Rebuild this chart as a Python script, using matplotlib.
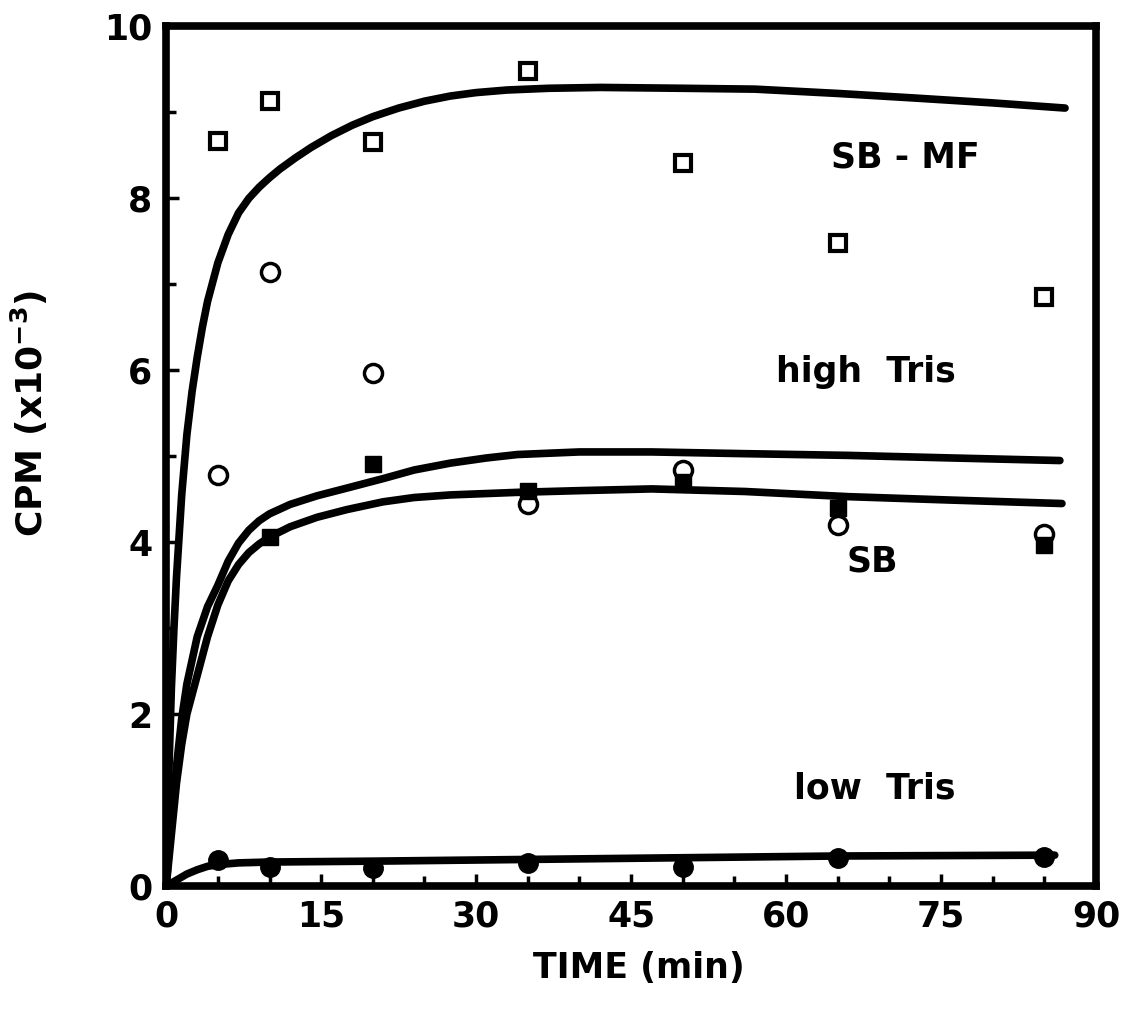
import matplotlib
matplotlib.use("Agg")
import matplotlib.pyplot as plt
from matplotlib.ticker import MultipleLocator

plt.rcParams['font.family'] = ['DejaVu Sans']
plt.rcParams['font.weight'] = 'bold'
plt.rcParams['mathtext.default'] = 'bf'

# sampling times (min)
times = [5, 10, 20, 35, 50, 65, 85]
sb_times = [10, 20, 35, 50, 65, 85]

# measured counts, CPM x 10^-3
sb_mf = [8.67, 9.13, 8.65, 9.48, 8.41, 7.48, 6.85]
high_tris = [4.78, 7.14, 5.97, 4.45, 4.84, 4.20, 4.10]
sb = [4.06, 4.91, 4.60, 4.70, 4.40, 3.97]
low_tris = [0.30, 0.22, 0.21, 0.27, 0.22, 0.33, 0.34]

# hand-drawn fitted curves
sb_mf_fit_t = [0, 0.25, 0.5, 0.75, 1, 1.5, 2, 2.5, 3, 3.5, 4, 5, 6, 7, 8, 9, 10,
               11, 12.5, 14, 16, 18, 20, 22.5, 25, 27.5, 30, 33, 37, 42, 50, 57,
               65, 72, 80, 87]
sb_mf_fit_y = [0, 1.3, 2.3, 3.0, 3.6, 4.55, 5.25, 5.75, 6.15, 6.5, 6.8, 7.25,
               7.58, 7.83, 8.0, 8.13, 8.24, 8.34, 8.47, 8.59, 8.73, 8.85, 8.95,
               9.05, 9.13, 9.19, 9.23, 9.26, 9.28, 9.29, 9.28, 9.27, 9.22, 9.17,
               9.11, 9.05]

high_fit_t = [0, 0.5, 1, 1.5, 2, 3, 4, 5, 6, 7, 8, 9, 10, 12, 14.6, 17.5, 21, 24,
              27.5, 31, 34, 40, 47, 56, 66, 76, 86.5]
high_fit_y = [0, 0.75, 1.4, 1.95, 2.35, 2.9, 3.25, 3.5, 3.78, 3.99, 4.14, 4.25,
              4.33, 4.44, 4.54, 4.63, 4.74, 4.84, 4.92, 4.98, 5.02, 5.05, 5.05,
              5.03, 5.01, 4.98, 4.95]

sb_fit_t = [0, 0.5, 1, 1.5, 2, 3, 4, 5, 6, 7, 8, 9, 10, 12, 14.6, 17.5, 21, 24,
            27.5, 34, 40, 47, 56, 66, 76, 86.7]
sb_fit_y = [0, 0.6, 1.2, 1.65, 2.0, 2.45, 2.9, 3.27, 3.55, 3.74, 3.88, 3.98, 4.06,
            4.18, 4.29, 4.38, 4.47, 4.52, 4.55, 4.58, 4.60, 4.62, 4.59, 4.53,
            4.49, 4.45]

low_fit_t = [0, 1, 2, 3, 4, 5, 7, 10, 20, 35, 50, 65, 86]
low_fit_y = [0, 0.07, 0.14, 0.19, 0.23, 0.25, 0.27, 0.28, 0.29, 0.31, 0.33, 0.35,
             0.36]

fig = plt.figure(figsize=(11.23, 10.15), dpi=100)
ax = fig.add_axes([0.148, 0.127, 0.828, 0.847])

lw = 5.5
for t, y in [(sb_mf_fit_t, sb_mf_fit_y), (high_fit_t, high_fit_y),
             (sb_fit_t, sb_fit_y), (low_fit_t, low_fit_y)]:
    ax.plot(t, y, color='black', lw=lw, solid_capstyle='round',
            solid_joinstyle='round', zorder=2)

ax.plot(times, sb_mf, ls='none', marker='s', ms=11, mfc='white', mec='black',
        mew=3, zorder=3)
ax.plot(times, high_tris, ls='none', marker='o', ms=13, mfc='white', mec='black',
        mew=2.5, zorder=3)
ax.plot(sb_times, sb, ls='none', marker='s', ms=11, mfc='black', mec='black',
        zorder=3)
ax.plot(times, low_tris, ls='none', marker='o', ms=14, mfc='black', mec='black',
        zorder=3)

txt = dict(fontsize=25, fontweight='bold', ha='center', va='center')
ax.text(71.5, 8.48, 'SB - MF', **txt)
ax.text(67.7, 5.98, 'high  Tris', **txt)
ax.text(68.3, 3.78, 'SB', **txt)
ax.text(68.6, 1.13, 'low  Tris', **txt)

ax.set_xlim(0, 90)
ax.set_ylim(0, 10)
ax.xaxis.set_major_locator(MultipleLocator(15))
ax.xaxis.set_minor_locator(MultipleLocator(5))
ax.yaxis.set_major_locator(MultipleLocator(2))
ax.yaxis.set_minor_locator(MultipleLocator(1))
ax.tick_params(which='both', direction='in', width=2.5, labelsize=25, pad=10)
ax.tick_params(which='major', length=9)
ax.tick_params(which='minor', length=7)
for lab in ax.get_xticklabels() + ax.get_yticklabels():
    lab.set_fontweight('bold')
for s in ax.spines.values():
    s.set_linewidth(5.5)

ax.set_xlabel('TIME (min)', fontsize=25, fontweight='bold')
ax.xaxis.set_label_coords(0.508, -0.076)
ax.set_ylabel(r'CPM (x10$^{-3}$)', fontsize=26, fontweight='bold')
ax.yaxis.set_label_coords(-0.125, 0.55)

plt.savefig('out.png', dpi=100)
